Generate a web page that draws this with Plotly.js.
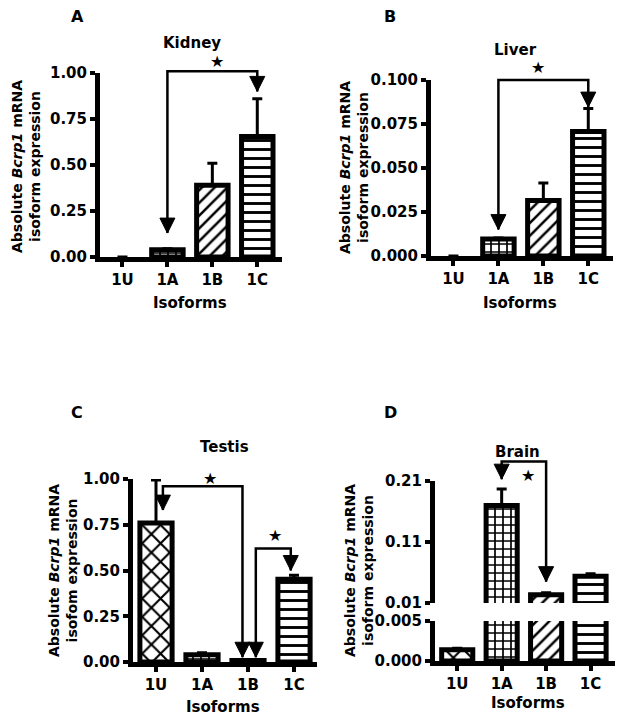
<!DOCTYPE html>
<html><head><meta charset="utf-8">
<script src="https://cdn.plot.ly/plotly-3.0.1.min.js"></script>
<style>html,body{margin:0;padding:0;background:#fff}</style>
</head><body><div id="chart" style="width:621px;height:721px"></div>
<script>
// ---------------- data ----------------
const categories = ['1U', '1A', '1B', '1C'];
const kidneyMean = [0, 0.04, 0.39, 0.655];
const kidneyErr  = [0, 0.005, 0.12, 0.205];
const liverMean  = [0, 0.0097, 0.0315, 0.0708];
const liverErr   = [0, 0.0005, 0.0100, 0.0130];
const testisMean = [0.76, 0.04, 0.008, 0.452];
const testisErr  = [0.235, 0.01, 0.002, 0.022];
const brainMean  = [0.0014, 0.170, 0.0237, 0.054];
const brainErr   = [0.0002, 0.027, 0.003, 0.004];
const patterns = ['x', '+', '/', '-'];

// significance brackets: x = category index, y = data value; first/last points are arrow tips
const kidneyBracketX = [1, 1, 3, 3];
const kidneyBracketY = [0.13, 1.01, 1.01, 0.90];
const liverBracketX  = [1, 1, 3, 3];
const liverBracketY  = [0.0150, 0.100, 0.100, 0.0846];
const testisBracket1X = [0.15, 0.15, 1.88, 1.88];
const testisBracket1Y = [0.83, 0.96, 0.96, 0.026];
const testisBracket2X = [2.17, 2.17, 2.93, 2.93];
const testisBracket2Y = [0.026, 0.62, 0.62, 0.50];
const brainBracketX = [1, 1, 2, 2];
const brainBracketY = [0.213, 0.242, 0.242, 0.045];

// ---------------- helpers ----------------
const W = 621, H = 721;
const fx = p => p / W;
const fy = p => 1 - p / H;
const ydom = (top, bottom) => [fy(bottom), fy(top)];
const FAM = 'DejaVu Sans';
const font = (size) => ({family: FAM, size: size, color: '#000', weight: 'bold'});
const idx = categories.map((c, i) => i);

function baseAxis() {
  return {showline: true, linewidth: 5, linecolor: '#000', ticks: 'outside', ticklen: 5,
          tickwidth: 4, tickcolor: '#000', showgrid: false, zeroline: false,
          tickfont: font(15), fixedrange: true};
}
function xAxis(left, right, anchor, rng) {
  return Object.assign(baseAxis(), {domain: [fx(left), fx(right)], anchor: anchor, type: 'linear',
    range: rng, tickvals: idx, ticktext: categories});
}
function yAxis(top, bottom, anchor, rng, extra) {
  return Object.assign(baseAxis(), {domain: ydom(top, bottom), anchor: anchor, range: rng}, extra);
}
function overlayY(mainTop, mainBottom, rng, ovTop, anchor) {
  const scale = (rng[1] - rng[0]) / (mainBottom - mainTop);
  return {domain: ydom(ovTop, mainBottom), anchor: anchor,
          range: [rng[0], rng[0] + (mainBottom - ovTop) * scale],
          visible: false, fixedrange: true, showgrid: false, zeroline: false};
}
function barTrace(means, errs, xa, ya) {
  return {type: 'bar', x: idx, y: means, xaxis: xa, yaxis: ya, width: 0.7,
    marker: {color: '#fff', line: {color: '#000', width: means.map(v => v > 0 ? 5 : 0)},
      pattern: {shape: patterns, fgcolor: '#000', bgcolor: '#fff', size: [13, 8, 9, 9],
                solidity: [0.3, 0.38, 0.28, 0.32], fillmode: 'replace'}},
    error_y: {type: 'data', symmetric: false, array: errs, arrayminus: errs.map(() => 0),
              color: '#000', thickness: 3, width: 5},
    showlegend: false, hoverinfo: 'skip'};
}
function bracket(xs, ys, xa, ya) {
  return {type: 'scatter', mode: 'lines+markers', x: xs, y: ys, xaxis: xa, yaxis: ya,
    line: {color: '#000', width: 2.5},
    marker: {symbol: 'arrow-down', size: xs.map((v, i) => (i === 0 || i === xs.length - 1) ? 15 : 0),
             color: '#000', opacity: 1, line: {color: '#000', width: 1}},
    cliponaxis: false, showlegend: false, hoverinfo: 'skip'};
}
function ann(text, x, y, size, extra) {
  return Object.assign({text: text, x: fx(x), y: fy(y), xref: 'paper', yref: 'paper',
    xanchor: 'center', yanchor: 'middle', showarrow: false, font: font(size)}, extra || {});
}
const yTitle = (text2, x, y) => ann('Absolute <i>Bcrp1</i> mRNA<br>' + text2, x, y, 14, {textangle: -90});

// ---------------- ranges ----------------
const rA = [0, 1], rB = [0, 0.1], rC = [0, 1], rDlo = [0, 0.005], rDup = [0.01, 0.21];

const data = [
  barTrace(kidneyMean, kidneyErr, 'x', 'y'),
  barTrace(liverMean, liverErr, 'x2', 'y2'),
  barTrace(testisMean, testisErr, 'x3', 'y3'),
  barTrace(brainMean, brainErr, 'x4', 'y4'),
  barTrace(brainMean, brainErr, 'x4', 'y5'),
  bracket(kidneyBracketX, kidneyBracketY, 'x', 'y6'),
  bracket(liverBracketX, liverBracketY, 'x2', 'y7'),
  bracket(testisBracket1X, testisBracket1Y, 'x3', 'y8'),
  bracket(testisBracket2X, testisBracket2Y, 'x3', 'y8'),
  bracket(brainBracketX, brainBracketY, 'x4', 'y9')
];

const layout = {
  width: W, height: H, margin: {l: 0, r: 0, t: 0, b: 0},
  paper_bgcolor: '#fff', plot_bgcolor: 'rgba(0,0,0,0)', showlegend: false,
  xaxis:  xAxis(100, 282, 'y', [-0.5, 3.55]),
  yaxis:  yAxis(73, 257, 'x', rA, {tickvals: [0, 0.25, 0.5, 0.75, 1], tickformat: '.2f'}),
  xaxis2: xAxis(431, 613, 'y2', [-0.5, 3.55]),
  yaxis2: yAxis(80, 256, 'x2', rB, {tickvals: [0, 0.025, 0.05, 0.075, 0.1], tickformat: '.3f'}),
  xaxis3: xAxis(133, 317, 'y3', [-0.5, 3.5]),
  yaxis3: yAxis(479, 662, 'x3', rC, {tickvals: [0, 0.25, 0.5, 0.75, 1], tickformat: '.2f'}),
  xaxis4: xAxis(435, 615, 'y4', [-0.5, 3.55]),
  yaxis4: yAxis(621, 661, 'x4', rDlo, {tickvals: [0, 0.005], tickformat: '.3f'}),
  yaxis5: yAxis(481, 603, 'x4', rDup, {tickvals: [0.01, 0.11, 0.21], tickformat: '.2f'}),
  yaxis6: overlayY(73, 257, rA, 25, 'x'),
  yaxis7: overlayY(80, 256, rB, 25, 'x2'),
  yaxis8: overlayY(479, 662, rC, 430, 'x3'),
  yaxis9: overlayY(481, 603, rDup, 430, 'x4'),
  annotations: [
    ann('A', 77, 17, 16), ann('Kidney', 192, 43, 15), ann('★', 217, 62, 16),
    ann('Isoforms', 190, 303, 15), yTitle('isoform expression', 26, 167),
    ann('B', 390, 17, 16), ann('Liver', 515, 50, 15), ann('★', 538, 68, 16),
    ann('Isoforms', 520, 303, 15), yTitle('isoform expression', 354, 168),
    ann('C', 77, 412, 16), ann('Testis', 224, 447, 15), ann('★', 210, 478, 16), ann('★', 275, 535, 16),
    ann('Isoforms', 223, 707, 15), yTitle('isofom expression', 63, 571),
    ann('D', 390, 412, 16), ann('Brain', 517, 452, 15), ann('★', 528, 475, 16),
    ann('Isoforms', 528, 703, 15), yTitle('isoform expression', 359, 571)
  ]
};

Plotly.newPlot('chart', data, layout, {staticPlot: true, displayModeBar: false});
</script>
</body></html>
